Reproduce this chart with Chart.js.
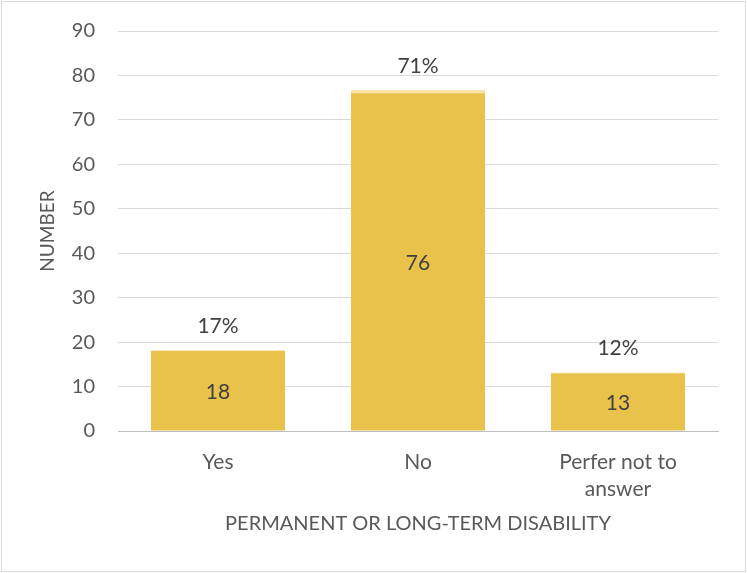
<!DOCTYPE html>
<html>
<head>
<meta charset="utf-8">
<script src="https://cdn.jsdelivr.net/npm/chart.js@4/dist/chart.umd.min.js"></script>
<style>
  html, body { margin: 0; padding: 0; background: #fff; }
  #wrap { width: 747px; height: 573px; }
</style>
</head>
<body>
<div id="wrap"><canvas id="chart" width="747" height="573"></canvas></div>
<script>
// data
const categories = ["Yes", "No", ["Perfer not to", "answer"]];
const counts = [18, 76, 13];
const shares = [0.17, 0.71, 0.12];
const yTicks = [0, 10, 20, 30, 40, 50, 60, 70, 80, 90];

const FONT = "Lato, 'Open Sans', sans-serif";
const TXT = "#595959";

// number inside each bar, percentage above it
const barLabels = {
  id: "barLabels",
  afterDatasetsDraw(chart){
    const ctx = chart.ctx;
    const m0 = chart.getDatasetMeta(0);
    const m1 = chart.getDatasetMeta(1);
    ctx.save();
    ctx.font = "21px " + FONT;
    ctx.fillStyle = "#404040";
    ctx.textAlign = "center";
    ctx.textBaseline = "middle";
    m0.data.forEach((bar, i) => {
      ctx.fillText(String(counts[i]), bar.x, (bar.y + bar.base) / 2 + 1);
    });
    m1.data.forEach((bar, i) => {
      ctx.fillText(Math.round(shares[i] * 100) + "%", bar.x, bar.y - 24);
    });
    ctx.restore();
  }
};

// thin grey frame round the whole picture
const frame = {
  id: "frame",
  afterDraw(chart){
    const ctx = chart.ctx;
    ctx.save();
    ctx.strokeStyle = "#d9d9d9";
    ctx.lineWidth = 1;
    ctx.strokeRect(1.5, 1.5, chart.width - 3, chart.height - 3);
    ctx.restore();
  }
};

new Chart(document.getElementById("chart"), {
  type: "bar",
  data: {
    labels: categories,
    datasets: [
      { label: "Number", data: counts, backgroundColor: "#e9c24c",
        barPercentage: 0.67, categoryPercentage: 1 },
      { label: "Share", data: shares, backgroundColor: "#fbe2a6",
        barPercentage: 0.67, categoryPercentage: 1 }
    ]
  },
  options: {
    responsive: false,
    animation: false,
    events: [],
    layout: { padding: { top: 31, right: 29, bottom: 20, left: 0 } },
    plugins: { legend: { display: false }, tooltip: { enabled: false } },
    scales: {
      x: {
        stacked: true,
        grid: { display: false, drawTicks: false },
        border: { display: true, color: "#bfbfbf", width: 1 },
        ticks: { color: TXT, font: { family: FONT, size: 21, lineHeight: 1.29 }, padding: 18, maxRotation: 0 },
        title: { display: true, text: "PERMANENT OR LONG-TERM DISABILITY", color: TXT,
                 font: { family: FONT, size: 20 }, padding: { top: 4, bottom: 17 } },
        afterFit(s){ s.height = 122; s.paddingLeft = 0; s.paddingRight = 0; }
      },
      y: {
        stacked: true,
        min: 0, max: 90,
        afterBuildTicks(s){ s.ticks = yTicks.map(v => ({ value: v })); },
        grid: { color: "#d9d9d9", drawTicks: false },
        border: { display: false },
        ticks: { color: TXT, font: { family: FONT, size: 20 }, padding: 23 },
        title: { display: true, text: "NUMBER", color: TXT,
                 font: { family: FONT, size: 19 }, padding: { top: 36, bottom: 0 } },
        afterFit(s){ s.width = 118; s.paddingTop = 0; s.paddingBottom = 0; }
      }
    }
  },
  plugins: [barLabels, frame]
});
</script>
</body>
</html>
